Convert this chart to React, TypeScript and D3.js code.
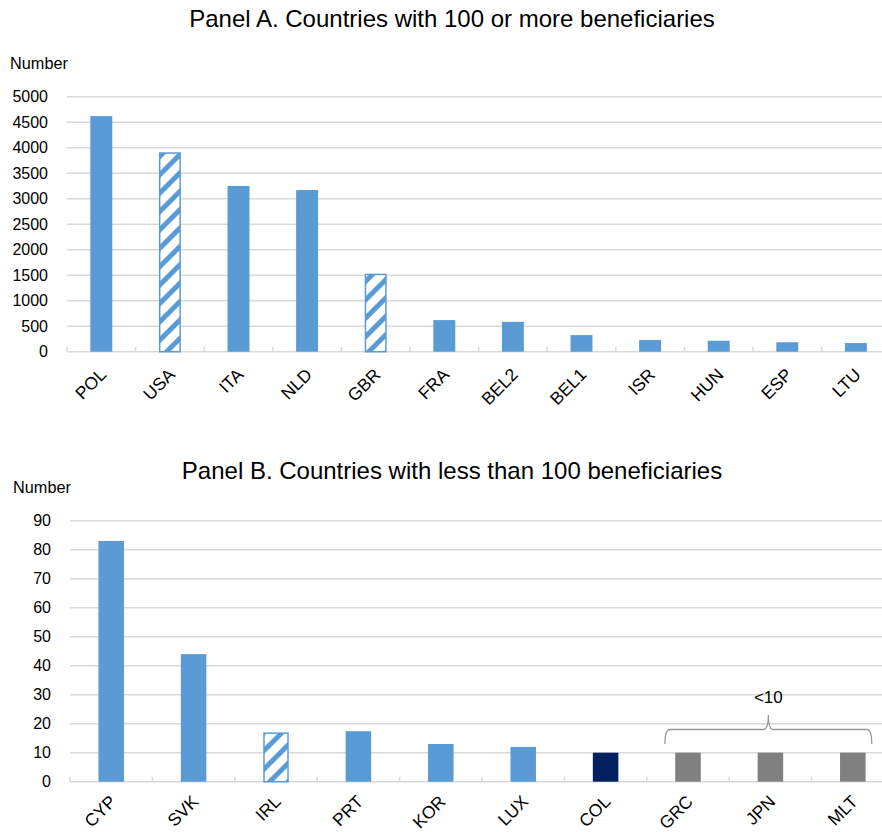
import React from "react";
import * as d3 from "d3";

const catsA = ["POL", "USA", "ITA", "NLD", "GBR", "FRA", "BEL2", "BEL1", "ISR", "HUN", "ESP", "LTU"];
const valsA = [4620, 3910, 3250, 3170, 1530, 620, 585, 325, 230, 215, 185, 170];
const typeA = ["solid", "hatch", "solid", "solid", "hatch", "solid", "solid", "solid", "solid", "solid", "solid", "solid"];
const ticksA = [0, 500, 1000, 1500, 2000, 2500, 3000, 3500, 4000, 4500, 5000];

const catsB = ["CYP", "SVK", "IRL", "PRT", "KOR", "LUX", "COL", "GRC", "JPN", "MLT"];
const valsB = [83, 44, 17, 17.4, 13, 12, 10, 10, 10, 10];
const typeB = ["solid", "solid", "hatch", "solid", "solid", "solid", "dark", "gray", "gray", "gray"];
const ticksB = [0, 10, 20, 30, 40, 50, 60, 70, 80, 90];

const titleA = "Panel A. Countries with 100 or more beneficiaries";
const titleB = "Panel B. Countries with less than 100 beneficiaries";
const bracketLabel = "<10";
const bracketCats = ["GRC", "MLT"];

const BLUE = "#5B9BD5";
const NAVY = "#002060";
const GRAY = "#808080";
const GRID = "#D9D9D9";
const FONT = "'Liberation Sans', Arial, sans-serif";

function fillFor(t: string) {
  if (t === "hatch") return "url(#hatch)";
  if (t === "dark") return NAVY;
  if (t === "gray") return GRAY;
  return BLUE;
}

function Panel(props: {
  cats: string[]; vals: number[]; types: string[]; ticks: number[];
  x0: number; step: number; y0: number; yTop: number; max: number;
  barFrac: number; tickRight: number; title: string; titleY: number; numY: number; numX: number;
  labelDy: number;
  children?: (x: d3.ScaleBand<string>, y: d3.ScaleLinear<number, number>) => React.ReactNode;
}) {
  const { cats, vals, types, ticks, x0, step, y0, yTop, max, barFrac } = props;
  const x = d3.scaleBand<string>().domain(cats).range([x0, x0 + step * cats.length]).padding(0);
  const y = d3.scaleLinear().domain([0, max]).range([y0, yTop]);
  const bw = x.bandwidth() * barFrac;
  return (
    <g>
      <text x={452} y={props.titleY} textAnchor="middle" fontSize={24} fill="#000">{props.title}</text>
      <text x={props.numX} y={props.numY} fontSize={16.3} fill="#000">Number</text>
      {ticks.map((t) => (
        <g key={t}>
          {t > 0 && <line x1={x0} x2={882} y1={y(t)} y2={y(t)} stroke={GRID} strokeWidth={1.5} />}
          <text x={props.tickRight} y={y(t)} dy="0.35em" textAnchor="end" fontSize={16} fill="#000">{t}</text>
        </g>
      ))}
      <line x1={x0} x2={882} y1={y(0)} y2={y(0)} stroke={GRID} strokeWidth={1.5} />
      {cats.map((c) => (
        <line key={"tk" + c} x1={x(c)!} x2={x(c)!} y1={y(0)} y2={y(0) - 5} stroke={GRID} strokeWidth={1.5} />
      ))}
      {cats.map((c, i) => {
        const cx = x(c)! + x.bandwidth() / 2;
        const t = types[i];
        const hatched = t === "hatch";
        return (
          <rect key={"b" + c}
            x={cx - bw / 2 + (hatched ? 0.75 : 0)}
            y={y(vals[i]) + (hatched ? 0.75 : 0)}
            width={bw - (hatched ? 1.5 : 0)}
            height={y(0) - y(vals[i]) - (hatched ? 0.75 : 0)}
            fill={fillFor(t)}
            stroke={hatched ? BLUE : "none"}
            strokeWidth={hatched ? 1.5 : 0} />
        );
      })}
      {cats.map((c) => {
        const cx = x(c)! + x.bandwidth() / 2;
        return (
          <text key={"l" + c} transform={`translate(${cx + 6},${y(0) + props.labelDy}) rotate(-45)`}
            textAnchor="end" fontSize={17.5} fill="#000">{c}</text>
        );
      })}
      {props.children && props.children(x, y)}
    </g>
  );
}

export default function App() {
  return (
    <svg width={882} height={832} style={{ display: "block", position: "absolute", left: 0, top: 0, fontFamily: FONT, background: "#fff" }}>
      <defs>
        <pattern id="hatch" patternUnits="userSpaceOnUse" width={13} height={13} patternTransform="rotate(45)">
          <rect width={13} height={13} fill="#fff" />
          <rect x={0} y={0} width={5} height={13} fill={BLUE} />
        </pattern>
      </defs>
      <rect width={882} height={832} fill="#fff" />
      <Panel cats={catsA} vals={valsA} types={typeA} ticks={ticksA}
        x0={67} step={68.6} y0={351.7} yTop={96.7} max={5000} barFrac={0.32}
        tickRight={48} title={titleA} titleY={27} numX={10} numY={69} labelDy={24} />
      <Panel cats={catsB} vals={valsB} types={typeB} ticks={ticksB}
        x0={70} step={82.4} y0={781.7} yTop={520.7} max={90} barFrac={0.31}
        tickRight={51} title={titleB} titleY={479} numX={13} numY={493} labelDy={21}>
        {(x, y) => {
          const left = x(bracketCats[0])! + x.bandwidth() * 0.22;
          const right = x(bracketCats[1])! + x.bandwidth() * 0.73;
          const mid = (left + right) / 2;
          const yb = y(18);
          const ye = y(13);
          const yp = y(23);
          const r = 5;
          const d = `M${left},${ye} Q${left},${yb} ${left + r},${yb} L${mid - r},${yb} Q${mid},${yb} ${mid},${yp} Q${mid},${yb} ${mid + r},${yb} L${right - r},${yb} Q${right},${yb} ${right},${ye}`;
          return (
            <g>
              <path d={d} fill="none" stroke="#999" strokeWidth={1.3} />
              <text x={mid} y={y(27)} textAnchor="middle" fontSize={17} fill="#000">{bracketLabel}</text>
            </g>
          );
        }}
      </Panel>
    </svg>
  );
}
